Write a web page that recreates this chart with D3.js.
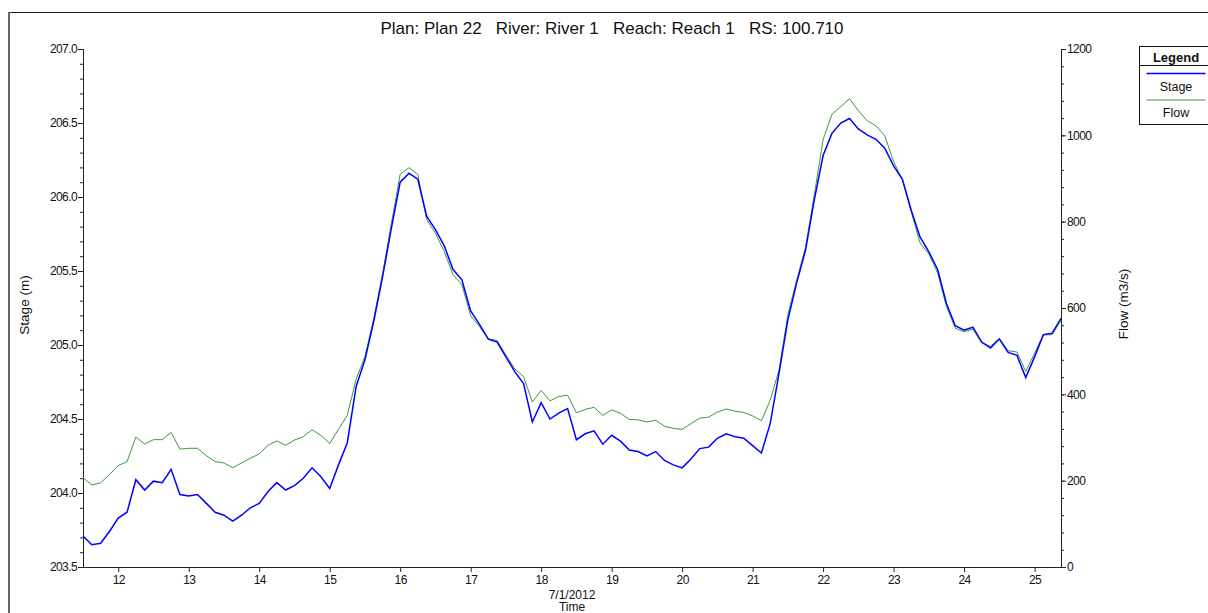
<!DOCTYPE html>
<html>
<head>
<meta charset="utf-8">
<script src="https://cdn.jsdelivr.net/npm/d3@7"></script>
<style>
  body { margin: 0; background: #fff; }
  svg { display: block; font-family: "Liberation Sans", Arial, sans-serif; }
  .axis text { font-size: 12px; fill: #111; }
  .axis path, .axis line { stroke: #222; }
</style>
</head>
<body>
<div id="graphArea"></div>
<script>
// 3-hourly samples, days of July 2012
var timeStart = 11.5, timeStep = 0.125;

var stage = [
  203.71, 203.65, 203.66, 203.74,
  203.83, 203.87, 204.09, 204.02, 204.08, 204.07, 204.16, 203.99,
  203.98, 203.99, 203.93, 203.87, 203.85, 203.81, 203.85, 203.90,
  203.93, 204.01, 204.07, 204.02, 204.05, 204.10, 204.17, 204.11,
  204.03, 204.19, 204.34, 204.72, 204.90, 205.16, 205.46, 205.79,
  206.10, 206.16, 206.12, 205.87, 205.78, 205.67, 205.51, 205.44,
  205.23, 205.14, 205.04, 205.02, 204.92, 204.82, 204.74, 204.48,
  204.61, 204.50, 204.54, 204.57, 204.36, 204.40, 204.42, 204.33,
  204.39, 204.35, 204.29, 204.28, 204.25, 204.28, 204.22, 204.19,
  204.17, 204.23, 204.30, 204.31, 204.37, 204.40, 204.38, 204.37,
  204.32, 204.27, 204.47, 204.81, 205.17, 205.42, 205.64, 205.98,
  206.28, 206.43, 206.50, 206.53, 206.46, 206.42, 206.39, 206.33,
  206.21, 206.12, 205.91, 205.73, 205.63, 205.51, 205.28, 205.13,
  205.10, 205.12, 205.02, 204.98, 205.04, 204.95, 204.93, 204.78,
  204.92, 205.07, 205.08, 205.18
];

var flow = [
  207, 190, 195, 214,
  235, 244, 301, 285, 295, 295, 312, 273,
  275, 275, 258, 244, 241, 230, 241, 252,
  262, 282, 292, 282, 294, 302, 318, 305,
  286, 319, 352, 435, 488, 576, 680, 796,
  910, 925, 910, 805, 773, 731, 677, 654,
  582, 557, 528, 525, 491, 459, 441, 382,
  409, 385, 395, 398, 357, 365, 370, 351,
  364, 356, 342, 341, 336, 340, 326, 321,
  319, 332, 345, 347, 359, 366, 361, 358,
  350, 339, 386, 457, 585, 665, 740, 862,
  990, 1049, 1066, 1085, 1057, 1034, 1022, 999,
  939, 897, 823, 751, 725, 681, 603, 553,
  545, 551, 519, 511, 530, 501, 498, 453,
  495, 538, 538, 571
];

var dayTicks = [12, 13, 14, 15, 16, 17, 18, 19, 20, 21, 22, 23, 24, 25];
var stageTicks = [203.5, 204.0, 204.5, 205.0, 205.5, 206.0, 206.5, 207.0];
var flowTicks = [0, 200, 400, 600, 800, 1000, 1200];

var title = "Plan: Plan 22\u00a0\u00a0\u00a0River: River 1\u00a0\u00a0\u00a0Reach: Reach 1\u00a0\u00a0\u00a0RS: 100.710";

function visualize() {
    var w = 1208, h = 613;
    var left = 83, right = 1061, top = 49, bottom = 567;

    var svg = d3.select("#graphArea").append("svg").attr("width", w).attr("height", h);

    // outer frame
    svg.append("rect")
        .attr("x", 9).attr("y", 12.5)
        .attr("width", w + 20).attr("height", h + 20)
        .attr("fill", "none").attr("stroke", "#222").attr("stroke-width", 1);
    svg.append("line")
        .attr("x1", 9).attr("x2", 9).attr("y1", 12).attr("y2", h)
        .attr("stroke", "#666").attr("stroke-width", 2);

    var x = d3.scaleLinear().domain([timeStart, timeStart + timeStep * (stage.length - 1)]).range([left, right]);
    var yStage = d3.scaleLinear().domain([203.5, 207.0]).range([bottom, top]);
    var yFlow = d3.scaleLinear().domain([0, 1200]).range([bottom, top]);

    var minorStage = d3.range(203.5, 207.0001, 0.1).map(v => +v.toFixed(1));
    var minorFlow = d3.range(0, 1201, 40);

    // left axis
    svg.append("g").attr("class", "axis").attr("transform", "translate(" + left + ",0)")
        .call(d3.axisLeft(yStage).tickValues(minorStage).tickSize(3).tickFormat(""));
    svg.append("g").attr("class", "axis").attr("transform", "translate(" + left + ",0)")
        .call(d3.axisLeft(yStage).tickValues(stageTicks).tickSize(5).tickPadding(1).tickFormat(d3.format(".1f")))
        .call(g => g.selectAll("text").attr("letter-spacing", "-0.6px"));

    // right axis
    svg.append("g").attr("class", "axis").attr("transform", "translate(" + right + ",0)")
        .call(d3.axisRight(yFlow).tickValues(minorFlow).tickSize(3).tickFormat(""));
    svg.append("g").attr("class", "axis").attr("transform", "translate(" + right + ",0)")
        .call(d3.axisRight(yFlow).tickValues(flowTicks).tickSize(5).tickPadding(1).tickFormat(d3.format("d")))
        .call(g => g.selectAll("text").attr("letter-spacing", "-0.6px"));

    // bottom axis
    svg.append("g").attr("class", "axis").attr("transform", "translate(0," + bottom + ")")
        .call(d3.axisBottom(x).tickValues(dayTicks).tickSize(5).tickPadding(3).tickFormat(d3.format("d")))
        .call(g => g.select(".domain").attr("d", "M" + left + ",0.5H" + right))
        .call(g => g.selectAll("text").attr("letter-spacing", "-0.6px"));

    svg.append("text").attr("x", (left + right) / 2).attr("y", 599)
        .attr("text-anchor", "middle").style("font-size", "12px").attr("fill", "#111").text("7/1/2012");
    svg.append("text").attr("x", (left + right) / 2).attr("y", 611)
        .attr("text-anchor", "middle").style("font-size", "12px").attr("fill", "#111").text("Time");

    svg.append("text")
        .attr("transform", "translate(29,305) rotate(-90)")
        .attr("text-anchor", "middle").style("font-size", "13.5px").attr("fill", "#111").text("Stage (m)");
    svg.append("text")
        .attr("transform", "translate(1128,304) rotate(-90)")
        .attr("text-anchor", "middle").style("font-size", "13.5px").attr("fill", "#111").text("Flow (m3/s)");

    svg.append("text").attr("x", 612).attr("y", 34)
        .attr("text-anchor", "middle").style("font-size", "17px").attr("fill", "#111").text(title);

    var t = (d, i) => x(timeStart + timeStep * i);

    svg.append("path").datum(flow)
        .attr("fill", "none").attr("stroke", "#3a9a3a").attr("stroke-width", 1)
        .attr("d", d3.line().x(t).y(d => yFlow(d)));

    svg.append("path").datum(stage)
        .attr("fill", "none").attr("stroke", "#0000ff").attr("stroke-width", 1.5)
        .attr("d", d3.line().x(t).y(d => yStage(d)));

    // legend
    var lg = svg.append("g").attr("transform", "translate(1139.5,46.5)");
    lg.append("rect").attr("width", 80).attr("height", 78)
        .attr("fill", "#fff").attr("stroke", "#111").attr("stroke-width", 1);
    lg.append("line").attr("x1", 0).attr("x2", 80).attr("y1", 19).attr("y2", 19).attr("stroke", "#111");
    lg.append("text").attr("x", 36.5).attr("y", 15).attr("text-anchor", "middle")
        .style("font-size", "13px").style("font-weight", "bold").attr("fill", "#111").text("Legend");
    lg.append("line").attr("x1", 7).attr("x2", 66).attr("y1", 27).attr("y2", 27)
        .attr("stroke", "#0000ff").attr("stroke-width", 1.5);
    lg.append("text").attr("x", 36.5).attr("y", 44.5).attr("text-anchor", "middle")
        .style("font-size", "12.5px").attr("fill", "#111").text("Stage");
    lg.append("line").attr("x1", 7).attr("x2", 66).attr("y1", 53.5).attr("y2", 53.5)
        .attr("stroke", "#3a9a3a").attr("stroke-width", 1);
    lg.append("text").attr("x", 36.5).attr("y", 70).attr("text-anchor", "middle")
        .style("font-size", "12.5px").attr("fill", "#111").text("Flow");
}

document.addEventListener('DOMContentLoaded', () => {
    visualize();
});
</script>
</body>
</html>
